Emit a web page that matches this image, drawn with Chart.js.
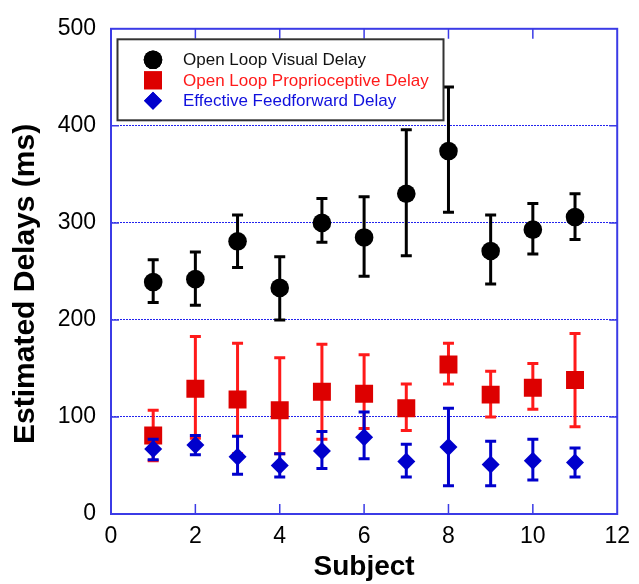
<!DOCTYPE html>
<html>
<head>
<meta charset="utf-8">
<script src="https://cdn.jsdelivr.net/npm/chart.js@4.4.0/dist/chart.umd.min.js"></script>
<style>
  html, body { margin: 0; padding: 0; background: #fff; }
</style>
</head>
<body>
<canvas id="myChart" width="639" height="584"></canvas>
<script>
// subjects on the x axis
const subjects = [1, 2, 3, 4, 5, 6, 7, 8, 9, 10, 11];

// open loop visual delay (ms), with error bar ends
const visualDelay = [239, 242, 281, 233, 300, 285, 330, 374, 271, 293, 306];
const visualLow   = [218, 215, 254, 200, 280, 245, 266, 311, 237, 268, 283];
const visualHigh  = [262, 270, 308, 265, 325, 327, 396, 440, 308, 320, 330];

// open loop proprioceptive delay (ms)
const propDelay = [81, 129, 118, 107, 126, 124, 109, 154, 123, 130, 138];
const propLow   = [55, 78, 62, 62, 77, 88, 86, 134, 100, 108, 90];
const propHigh  = [107, 183, 176, 161, 175, 164, 134, 176, 147, 155, 186];

// effective feedforward delay (ms)
const ffDelay = [67, 71, 59, 50, 65, 79, 54, 69, 51, 55, 53];
const ffLow   = [56, 61, 41, 38, 47, 57, 38, 29, 29, 35, 38];
const ffHigh  = [77, 81, 80, 62, 85, 105, 72, 109, 75, 77, 68];

const xTicks = [0, 2, 4, 6, 8, 10, 12];
const yTicks = [0, 100, 200, 300, 400, 500];

const AXIS_BLUE = '#3b3be6';
const GRID_BLUE = '#2222ee';
const SANS = "'Liberation Sans', Arial, sans-serif";

const pts = vals => subjects.map((s, i) => ({x: s, y: vals[i]}));

// vertical error bars, drawn just under each dataset's markers
const errorBars = {
  id: 'errorBars',
  beforeDatasetDraw(chart, args) {
    const ds = chart.data.datasets[args.index];
    if (!ds.errLow) return;
    const {ctx, scales: {x, y}} = chart;
    ctx.save();
    ctx.strokeStyle = ds.errColor;
    ctx.lineWidth = 3;
    ds.data.forEach((p, i) => {
      const px = x.getPixelForValue(p.x);
      const lo = y.getPixelForValue(ds.errLow[i]);
      const hi = y.getPixelForValue(ds.errHigh[i]);
      ctx.beginPath();
      ctx.moveTo(px, lo); ctx.lineTo(px, hi);
      ctx.moveTo(px - 5.5, lo); ctx.lineTo(px + 5.5, lo);
      ctx.moveTo(px - 5.5, hi); ctx.lineTo(px + 5.5, hi);
      ctx.stroke();
    });
    ctx.restore();
  }
};

// blue box round the plot with inward ticks on all four sides
const frame = {
  id: 'frame',
  beforeDatasetsDraw(chart) {
    const {ctx, chartArea: a, scales: {x, y}} = chart;
    ctx.save();
    ctx.strokeStyle = AXIS_BLUE;
    ctx.lineWidth = 1.5;
    ctx.beginPath();
    xTicks.slice(1, -1).forEach(v => {
      const px = x.getPixelForValue(v);
      ctx.moveTo(px, a.bottom); ctx.lineTo(px, a.bottom - 10);
      ctx.moveTo(px, a.top); ctx.lineTo(px, a.top + 10);
    });
    yTicks.slice(1, -1).forEach(v => {
      const py = y.getPixelForValue(v);
      ctx.moveTo(a.left, py); ctx.lineTo(a.left + 8, py);
      ctx.moveTo(a.right, py); ctx.lineTo(a.right - 8, py);
    });
    ctx.stroke();
    ctx.lineWidth = 2;
    ctx.strokeRect(a.left, a.top, a.right - a.left, a.bottom - a.top);
    ctx.restore();
  }
};

// boxed legend in the upper left of the plot
const boxLegend = {
  id: 'boxLegend',
  afterDatasetsDraw(chart) {
    const {ctx, chartArea: a} = chart;
    const bx = a.left + 6.5, by = a.top + 10.5, bw = 326, bh = 81;
    ctx.save();
    ctx.fillStyle = '#fff';
    ctx.fillRect(bx, by, bw, bh);
    ctx.strokeStyle = '#333';
    ctx.lineWidth = 2;
    ctx.strokeRect(bx, by, bw, bh);
    chart.data.datasets.forEach((ds, row) => {
      const cy = a.top + 31 + row * 20.5;
      ctx.fillStyle = ds.backgroundColor;
      Chart.helpers.drawPoint(ctx, {
        pointStyle: ds.pointStyle, radius: ds.pointRadius, rotation: 0, borderWidth: 0
      }, a.left + 42, cy);
      ctx.fill();
      ctx.fillStyle = ds.textColor;
      ctx.font = '17px ' + SANS;
      ctx.textBaseline = 'middle';
      ctx.textAlign = 'left';
      ctx.fillText(ds.label, a.left + 72, cy + 1);
    });
    ctx.restore();
  }
};

const data = {
  datasets: [
    {
      label: 'Open Loop Visual Delay',
      data: pts(visualDelay),
      errLow: visualLow, errHigh: visualHigh, errColor: '#000',
      backgroundColor: '#000', borderColor: '#000', textColor: '#111',
      pointStyle: 'circle', pointRadius: 9.3, pointBorderWidth: 0,
      order: 3
    },
    {
      label: 'Open Loop Proprioceptive Delay',
      data: pts(propDelay),
      errLow: propLow, errHigh: propHigh, errColor: '#ff1a1a',
      backgroundColor: '#dd0000', borderColor: '#dd0000', textColor: '#ff1a1a',
      pointStyle: 'rect', pointRadius: 12.7, pointBorderWidth: 0,
      order: 2
    },
    {
      label: 'Effective Feedforward Delay',
      data: pts(ffDelay),
      errLow: ffLow, errHigh: ffHigh, errColor: '#0000cc',
      backgroundColor: '#0000cc', borderColor: '#0000cc', textColor: '#1010dd',
      pointStyle: 'rectRot', pointRadius: 9, pointBorderWidth: 0,
      order: 1
    }
  ]
};

const config = {
  type: 'scatter',
  data: data,
  options: {
    responsive: false,
    animation: false,
    devicePixelRatio: 1,
    layout: { padding: { top: 28, right: 12, left: 0, bottom: 0 } },
    plugins: {
      legend: { display: false },
      tooltip: { enabled: false }
    },
    scales: {
      x: {
        type: 'linear',
        min: 0, max: 12,
        afterBuildTicks(s) { s.ticks = xTicks.map(v => ({value: v})); },
        afterFit(s) { s.height = 70; },
        grid: { display: false, drawTicks: false },
        border: { display: false },
        ticks: { padding: 9, color: '#000', font: { family: SANS, size: 23 } },
        title: {
          display: true, text: 'Subject', color: '#000',
          padding: { top: 0, bottom: 0 },
          font: { family: SANS, size: 28, weight: 'bold' }
        }
      },
      y: {
        min: 0, max: 500,
        afterBuildTicks(s) { s.ticks = yTicks.map(v => ({value: v})); },
        afterFit(s) { s.width = 111; },
        grid: {
          drawTicks: false,
          lineWidth: 1,
          color: GRID_BLUE
        },
        border: { display: false, dash: [2, 1] },
        ticks: { padding: 15, color: '#000', font: { family: SANS, size: 23 } },
        title: {
          display: true, text: 'Estimated Delays (ms)   ', color: '#000',
          padding: { top: 8, bottom: 0 },
          font: { family: SANS, size: 30, weight: 'bold' }
        }
      }
    }
  },
  plugins: [frame, errorBars, boxLegend]
};

const myChart = new Chart(document.getElementById('myChart'), config);
</script>
</body>
</html>
